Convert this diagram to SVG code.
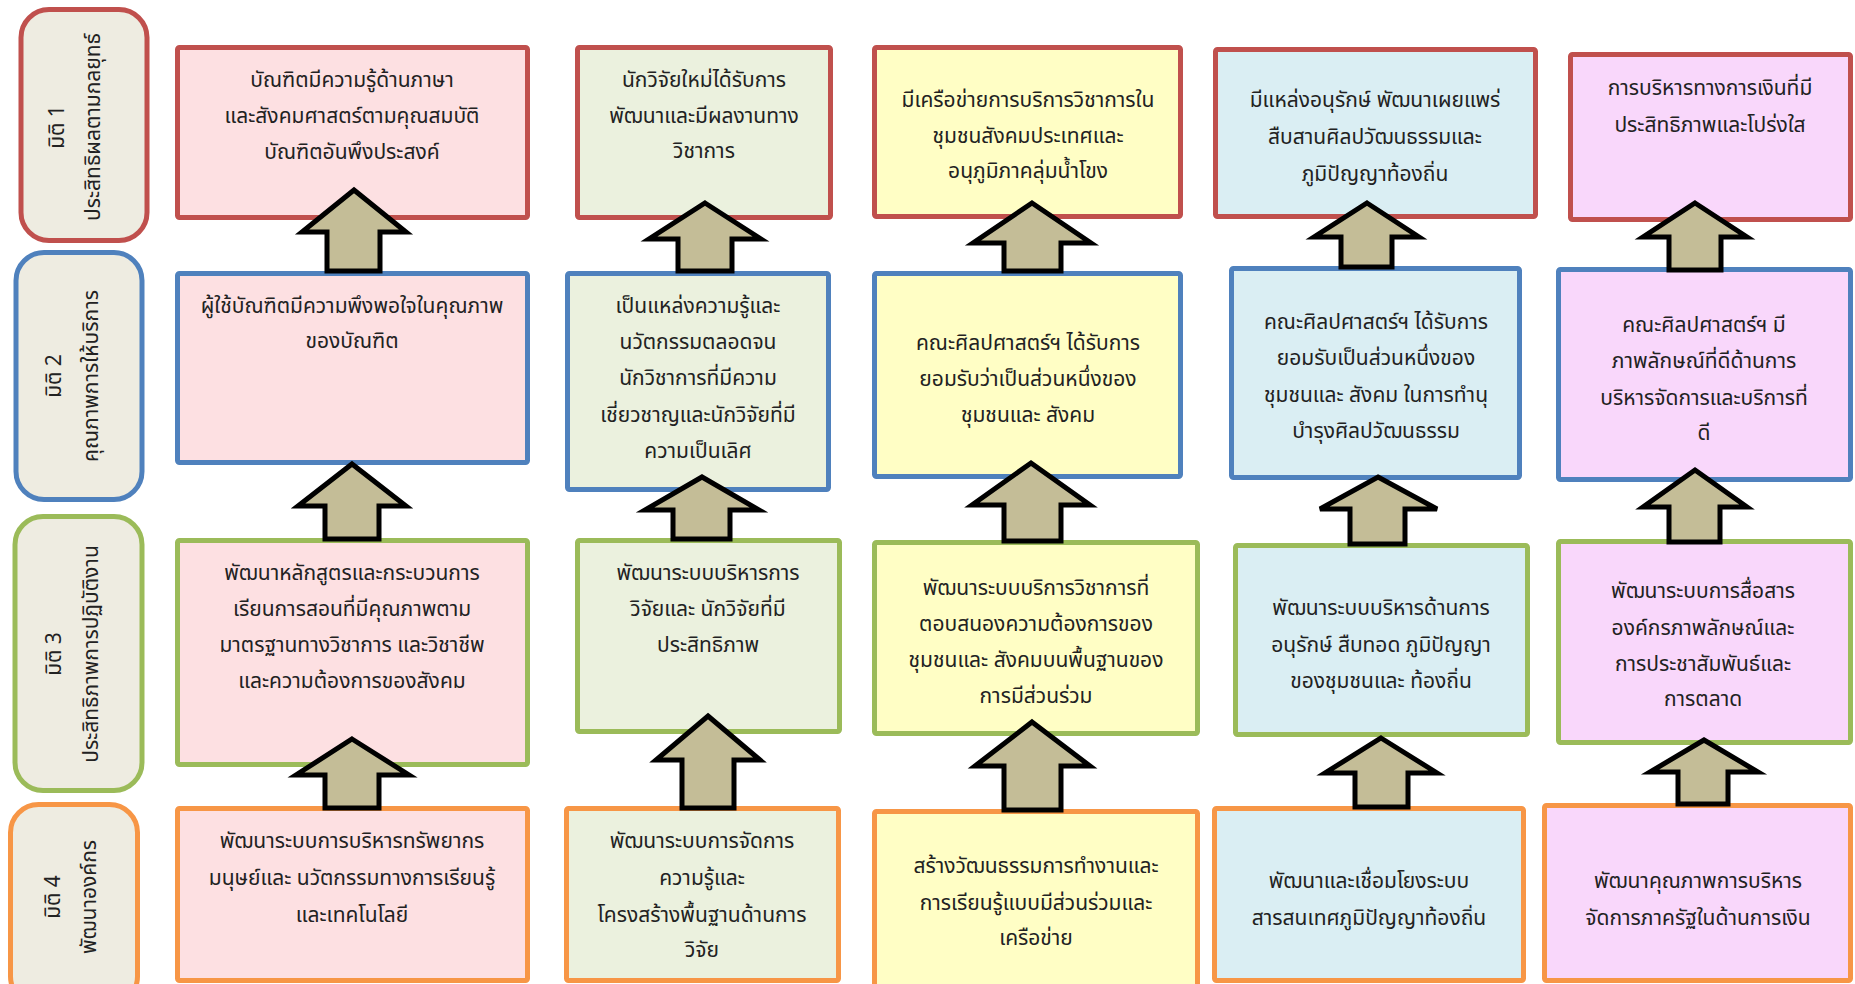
<svg xmlns="http://www.w3.org/2000/svg" width="1855" height="984" viewBox="0 0 1855 984">
<style>
.t{font-family:'Noto Sans Thai','Noto Sans','DejaVu Sans',sans-serif;font-size:21px;fill:#222;text-anchor:middle}
.lb{fill:#EEECE1;stroke-width:5}
.bx{stroke-width:5}
.r{stroke:#C0504D}.b{stroke:#4F81BD}.g{stroke:#9BBB59}.o{stroke:#F79646}
.c1{fill:#FDE0E2}.c2{fill:#EBF1DE}.c3{fill:#FFFEC5}.c4{fill:#DAEEF3}.c5{fill:#F9D7FB}
.ar{fill:#C4BD97;stroke:#000;stroke-width:5;stroke-linejoin:miter}
</style>
<rect width="1855" height="984" fill="#fff"/>

<g id="label1"><rect class="lb r" x="21" y="9.5" width="126" height="231" rx="28"/>
<text class="t" transform="translate(57,127) rotate(-90)" y="7">มิติ 1</text>
<text class="t" transform="translate(93,127) rotate(-90)" y="7">ประสิทธิผลตามกลยุทธ์</text></g>
<g id="label2"><rect class="lb b" x="16" y="252.5" width="126" height="247" rx="28"/>
<text class="t" transform="translate(54,376) rotate(-90)" y="7">มิติ 2</text>
<text class="t" transform="translate(91,376) rotate(-90)" y="7">คุณภาพการให้บริการ</text></g>
<g id="label3"><rect class="lb g" x="15" y="516.5" width="127" height="274" rx="28"/>
<text class="t" transform="translate(54,654) rotate(-90)" y="7">มิติ 3</text>
<text class="t" transform="translate(91,654) rotate(-90)" y="7">ประสิทธิภาพการปฏิบัติงาน</text></g>
<g id="label4"><rect class="lb o" x="10.5" y="804.5" width="127" height="200" rx="28"/>
<text class="t" transform="translate(53,897) rotate(-90)" y="7">มิติ 4</text>
<text class="t" transform="translate(89,897) rotate(-90)" y="7">พัฒนาองค์กร</text></g>

<g id="r1c1"><rect class="bx r c1" x="177.5" y="47.5" width="350" height="170" rx="2"/>
<text class="t"><tspan x="352" y="87">บัณฑิตมีความรู้ด้านภาษา</tspan><tspan x="352" y="123">และสังคมศาสตร์ตามคุณสมบัติ</tspan><tspan x="352" y="159">บัณฑิตอันพึงประสงค์</tspan></text></g>
<g id="r1c2"><rect class="bx r c2" x="577.5" y="47.5" width="253" height="170" rx="2"/>
<text class="t"><tspan x="704" y="87">นักวิจัยใหม่ได้รับการ</tspan><tspan x="704" y="123">พัฒนาและมีผลงานทาง</tspan><tspan x="704" y="158">วิชาการ</tspan></text></g>
<g id="r1c3"><rect class="bx r c3" x="874.5" y="47.5" width="306" height="169" rx="2"/>
<text class="t"><tspan x="1028" y="107">มีเครือข่ายการบริการวิชาการใน</tspan><tspan x="1028" y="143">ชุมชนสังคมประเทศและ</tspan><tspan x="1028" y="178">อนุภูมิภาคลุ่มน้ำโขง</tspan></text></g>
<g id="r1c4"><rect class="bx r c4" x="1215.5" y="49.5" width="320" height="167" rx="2"/>
<text class="t"><tspan x="1375" y="107">มีแหล่งอนุรักษ์ พัฒนาเผยแพร่</tspan><tspan x="1375" y="144">สืบสานศิลปวัฒนธรรมและ</tspan><tspan x="1375" y="181">ภูมิปัญญาท้องถิ่น</tspan></text></g>
<g id="r1c5"><rect class="bx r c5" x="1570.5" y="54.5" width="280" height="165" rx="2"/>
<text class="t"><tspan x="1710" y="95">การบริหารทางการเงินที่มี</tspan><tspan x="1710" y="132">ประสิทธิภาพและโปร่งใส</tspan></text></g>

<g id="r2c1"><rect class="bx b c1" x="177.5" y="273.5" width="350" height="189" rx="2"/>
<text class="t"><tspan x="352" y="313">ผู้ใช้บัณฑิตมีความพึงพอใจในคุณภาพ</tspan><tspan x="352" y="348">ของบัณฑิต</tspan></text></g>
<g id="r2c2"><rect class="bx b c2" x="567.5" y="273.5" width="261" height="216" rx="2"/>
<text class="t"><tspan x="698" y="313">เป็นแหล่งความรู้และ</tspan><tspan x="698" y="349">นวัตกรรมตลอดจน</tspan><tspan x="698" y="385">นักวิชาการที่มีความ</tspan><tspan x="698" y="422">เชี่ยวชาญและนักวิจัยที่มี</tspan><tspan x="698" y="458">ความเป็นเลิศ</tspan></text></g>
<g id="r2c3"><rect class="bx b c3" x="874.5" y="273.5" width="306" height="203" rx="2"/>
<text class="t"><tspan x="1028" y="350">คณะศิลปศาสตร์ฯ ได้รับการ</tspan><tspan x="1028" y="386">ยอมรับว่าเป็นส่วนหนึ่งของ</tspan><tspan x="1028" y="422">ชุมชนและ สังคม</tspan></text></g>
<g id="r2c4"><rect class="bx b c4" x="1231.5" y="268.5" width="288" height="209" rx="2"/>
<text class="t"><tspan x="1376" y="329">คณะศิลปศาสตร์ฯ ได้รับการ</tspan><tspan x="1376" y="365">ยอมรับเป็นส่วนหนึ่งของ</tspan><tspan x="1376" y="402">ชุมชนและ สังคม ในการทำนุ</tspan><tspan x="1376" y="438">บำรุงศิลปวัฒนธรรม</tspan></text></g>
<g id="r2c5"><rect class="bx b c5" x="1558.5" y="269.5" width="292" height="210" rx="2"/>
<text class="t"><tspan x="1704" y="332">คณะศิลปศาสตร์ฯ  มี</tspan><tspan x="1704" y="368">ภาพลักษณ์ที่ดีด้านการ</tspan><tspan x="1704" y="405">บริหารจัดการและบริการที่</tspan><tspan x="1704" y="440">ดี</tspan></text></g>

<g id="r3c1"><rect class="bx g c1" x="177.5" y="540.5" width="350" height="224" rx="2"/>
<text class="t"><tspan x="352" y="580">พัฒนาหลักสูตรและกระบวนการ</tspan><tspan x="352" y="616">เรียนการสอนที่มีคุณภาพตาม</tspan><tspan x="352" y="652">มาตรฐานทางวิชาการ และวิชาชีพ</tspan><tspan x="352" y="688">และความต้องการของสังคม</tspan></text></g>
<g id="r3c2"><rect class="bx g c2" x="577.5" y="540.5" width="262" height="191" rx="2"/>
<text class="t"><tspan x="708" y="580">พัฒนาระบบบริหารการ</tspan><tspan x="708" y="616">วิจัยและ นักวิจัยที่มี</tspan><tspan x="708" y="652">ประสิทธิภาพ</tspan></text></g>
<g id="r3c3"><rect class="bx g c3" x="874.5" y="542.5" width="323" height="191" rx="2"/>
<text class="t"><tspan x="1036" y="595">พัฒนาระบบบริการวิชาการที่</tspan><tspan x="1036" y="631">ตอบสนองความต้องการของ</tspan><tspan x="1036" y="667">ชุมชนและ สังคมบนพื้นฐานของ</tspan><tspan x="1036" y="703">การมีส่วนร่วม</tspan></text></g>
<g id="r3c4"><rect class="bx g c4" x="1235.5" y="545.5" width="292" height="189" rx="2"/>
<text class="t"><tspan x="1381" y="615">พัฒนาระบบบริหารด้านการ</tspan><tspan x="1381" y="652">อนุรักษ์ สืบทอด ภูมิปัญญา</tspan><tspan x="1381" y="688">ของชุมชนและ ท้องถิ่น</tspan></text></g>
<g id="r3c5"><rect class="bx g c5" x="1558.5" y="541.5" width="292" height="201" rx="2"/>
<text class="t"><tspan x="1703" y="598">พัฒนาระบบการสื่อสาร</tspan><tspan x="1703" y="635">องค์กรภาพลักษณ์และ</tspan><tspan x="1703" y="671">การประชาสัมพันธ์และ</tspan><tspan x="1703" y="706">การตลาด</tspan></text></g>

<g id="r4c1"><rect class="bx o c1" x="177.5" y="808.5" width="350" height="172" rx="2"/>
<text class="t"><tspan x="352" y="848">พัฒนาระบบการบริหารทรัพยากร</tspan><tspan x="352" y="885">มนุษย์และ นวัตกรรมทางการเรียนรู้</tspan><tspan x="352" y="922">และเทคโนโลยี</tspan></text></g>
<g id="r4c2"><rect class="bx o c2" x="566.5" y="808.5" width="272" height="172" rx="2"/>
<text class="t"><tspan x="702" y="848">พัฒนาระบบการจัดการ</tspan><tspan x="702" y="885">ความรู้และ</tspan><tspan x="702" y="922">โครงสร้างพื้นฐานด้านการ</tspan><tspan x="702" y="957">วิจัย</tspan></text></g>
<g id="r4c3"><rect class="bx o c3" x="874.5" y="811.5" width="323" height="190" rx="2"/>
<text class="t"><tspan x="1036" y="873">สร้างวัฒนธรรมการทำงานและ</tspan><tspan x="1036" y="910">การเรียนรู้แบบมีส่วนร่วมและ</tspan><tspan x="1036" y="945">เครือข่าย</tspan></text></g>
<g id="r4c4"><rect class="bx o c4" x="1214.5" y="808.5" width="309" height="172" rx="2"/>
<text class="t"><tspan x="1369" y="888">พัฒนาและเชื่อมโยงระบบ</tspan><tspan x="1369" y="925">สารสนเทศภูมิปัญญาท้องถิ่น</tspan></text></g>
<g id="r4c5"><rect class="bx o c5" x="1544.5" y="805.5" width="306" height="175" rx="2"/>
<text class="t"><tspan x="1698" y="888">พัฒนาคุณภาพการบริหาร</tspan><tspan x="1698" y="925">จัดการภาครัฐในด้านการเงิน</tspan></text></g>

<g id="connectors">
<path class="ar" d="M354,190 L406,232 L380,232 L380,271 L327,271 L327,232 L302,232 Z"/>
<path class="ar" d="M352,464 L406,506 L379,506 L379,539 L325,539 L325,506 L298,506 Z"/>
<path class="ar" d="M352,739 L409,775 L379,775 L379,808 L325,808 L325,775 L296,775 Z"/>
<path class="ar" d="M705,203 L761,239 L732,239 L732,271 L678,271 L678,239 L649,239 Z"/>
<path class="ar" d="M702,477 L759,510 L730,510 L730,539 L673,539 L673,510 L645,510 Z"/>
<path class="ar" d="M708,716 L760,760 L734,760 L734,808 L682,808 L682,760 L656,760 Z"/>
<path class="ar" d="M1032,203 L1091,243 L1061,243 L1061,271 L1004,271 L1004,243 L973,243 Z"/>
<path class="ar" d="M1031,463 L1090,505 L1061,505 L1061,541 L1004,541 L1004,505 L972,505 Z"/>
<path class="ar" d="M1032,722 L1090,766 L1061,766 L1061,810 L1004,810 L1004,766 L975,766 Z"/>
<path class="ar" d="M1367,203 L1419,237 L1392,237 L1392,267 L1341,267 L1341,237 L1314,237 Z"/>
<path class="ar" d="M1378,477 L1437,509 L1405,509 L1405,544 L1350,544 L1350,509 L1320,509 Z"/>
<path class="ar" d="M1381,738 L1437,773 L1408,773 L1408,807 L1355,807 L1355,773 L1325,773 Z"/>
<path class="ar" d="M1695,203 L1747,237 L1721,237 L1721,270 L1669,270 L1669,237 L1643,237 Z"/>
<path class="ar" d="M1695,470 L1747,507 L1720,507 L1720,542 L1669,542 L1669,507 L1643,507 Z"/>
<path class="ar" d="M1704,740 L1758,772 L1728,772 L1728,804 L1678,804 L1678,772 L1650,772 Z"/>
</g>
</svg>
